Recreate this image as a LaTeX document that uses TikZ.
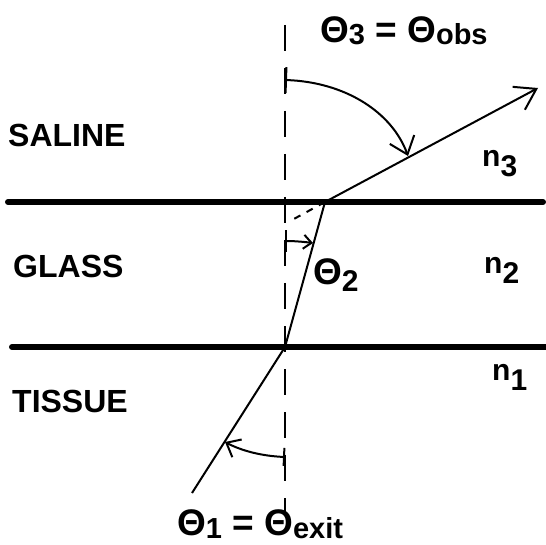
\documentclass[tikz,border=0pt]{standalone}
\usepackage{fontspec}
\setmainfont{Liberation Sans}
\usetikzlibrary{arrows.meta}
\newcommand\lowsub[3]{\raisebox{-#1}{\fontsize{#2}{#2}\selectfont #3}}
\tikzset{
  layer/.style={line width=6pt, line cap=round},
  ray/.style={line width=2pt},
  normal/.style={line width=1.8pt, dash pattern=on 26pt off 17pt},
  anglearc/.style={line width=2pt},
  lbl/.style={font=\bfseries\fontsize{32}{32}\selectfont, inner sep=0pt, anchor=base west},
  thlbl/.style={font=\bfseries\fontsize{37}{37}\selectfont, inner sep=0pt, anchor=base west},
  nlbl/.style={font=\bfseries\fontsize{30}{30}\selectfont, inner sep=0pt, anchor=base west}
}
\begin{document}
\begin{tikzpicture}[x=1pt,y=-1pt]
\useasboundingbox (0,0) rectangle (546,545);
% interfaces
\coordinate (l1a) at (8,202);
\coordinate (l1b) at (543,202);
\coordinate (l2a) at (12,347);
\coordinate (l2b) at (546,347);
\draw[layer] (l1a) -- (l1b);
\draw[layer] (l2a) -- (l2b);
% normal
\coordinate (nt) at (285,25);
\coordinate (nb) at (285,512);
\draw[normal] (nt) -- (nb);
% ray
\coordinate (p0) at (192,493);
\coordinate (p1) at (285,347);
\coordinate (p2) at (325,202);
\coordinate (p3) at (538,88);
\coordinate (pd) at (292,220);
\draw[ray] (p0) -- (p1) -- (p2);
\draw[ray, -{Straight Barb[length=20pt,width=26pt]}] (p2) -- (p3);
\draw[line width=2pt, dash pattern=on 7pt off 7pt] (p2) -- (pd);
% angle arcs
\coordinate (a3s) at (285,80);
\coordinate (a3e) at (408,156);
\draw[anglearc, {Bar[width=26pt]}-{Straight Barb[length=16pt,width=26pt]}]
  (a3s) .. controls (345,82) and (392,112) .. (a3e);
\coordinate (a2s) at (285,241);
\coordinate (a2e) at (313,243);
\draw[anglearc, {Bar[width=22pt]}-{Straight Barb[length=8pt,width=14pt]}]
  (a2s) .. controls (295,241) and (305,242) .. (a2e);
\coordinate (a1s) at (285,457);
\coordinate (a1e) at (225,442);
\draw[anglearc, {Bar[width=18pt]}-{Straight Barb[length=12pt,width=20pt]}]
  (a1s) .. controls (262,456) and (242,451) .. (a1e);
% labels
\node[lbl] (saline) at (8,147) {SALINE};
\node[lbl] (glass) at (13,278) {GLASS};
\node[lbl] (tissue) at (12,412) {TISSUE};
\node[nlbl] (n3) at (482,167) {n\lowsub{10pt}{30}{3}};
\node[nlbl] (n2) at (484,273) {n\lowsub{10pt}{30}{2}};
\node[nlbl] (n1) at (492,380) {n\lowsub{10pt}{30}{1}};
\node[thlbl] (th3) at (320,43) {Θ\lowsub{2pt}{29}{3} = Θ\lowsub{2pt}{29}{obs}};
\node[thlbl] (th2) at (313,284) {Θ\lowsub{8pt}{30}{2}};
\node[thlbl] (th1) at (177,535) {Θ\lowsub{3pt}{29}{1} = Θ\lowsub{3pt}{29}{exit}};
\end{tikzpicture}
\end{document}
